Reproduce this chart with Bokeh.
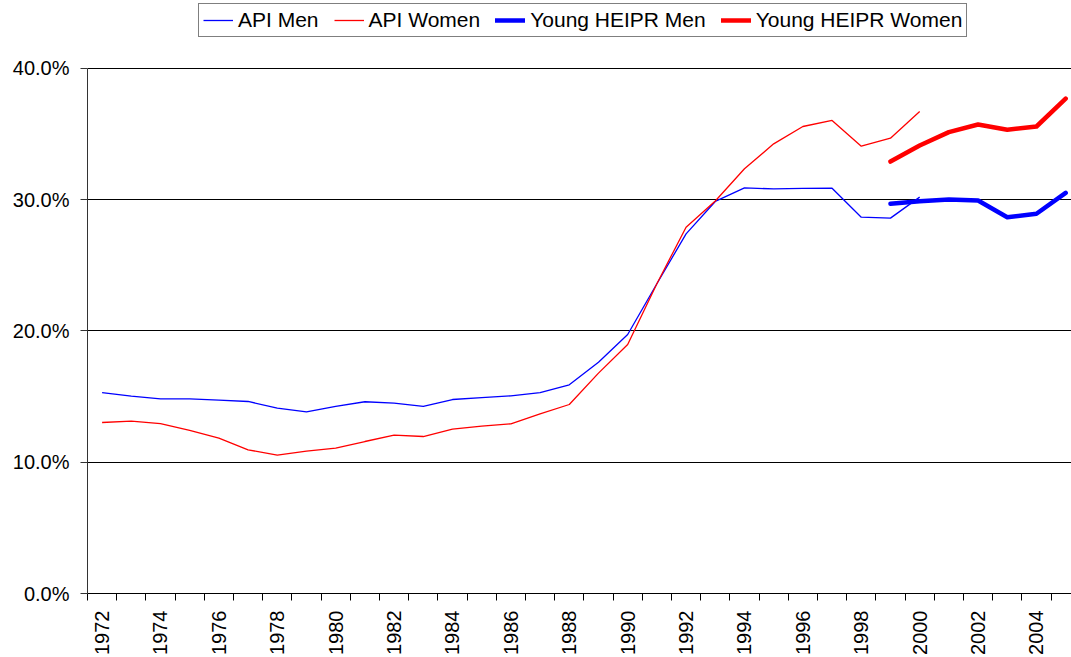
import math
from bokeh.plotting import figure
from bokeh.models import Legend, LegendItem, FixedTicker, NumeralTickFormatter, Range1d
from bokeh.embed import file_html
from bokeh.resources import INLINE

# ---- data (percent) ----
api_years = list(range(1972, 2001))
api_men = [15.31, 15.03, 14.83, 14.83, 14.73, 14.63, 14.12, 13.84, 14.25, 14.61,
           14.50, 14.25, 14.78, 14.93, 15.06, 15.31, 15.90, 17.62, 19.73, 23.60,
           27.40, 29.87, 30.90, 30.83, 30.86, 30.88, 28.67, 28.60, 30.20]
api_women = [13.03, 13.13, 12.95, 12.42, 11.83, 10.95, 10.54, 10.84, 11.07, 11.58,
             12.06, 11.96, 12.52, 12.75, 12.93, 13.69, 14.40, 16.79, 18.97, 23.60,
             27.91, 29.90, 32.36, 34.26, 35.58, 36.04, 34.08, 34.69, 36.72]
young_years = list(range(1999, 2006))
young_men = [29.69, 29.89, 30.02, 29.94, 28.67, 28.93, 30.52]
young_women = [32.91, 34.13, 35.15, 35.73, 35.33, 35.58, 37.70]

label_years = [1972, 1974, 1976, 1978, 1980, 1982, 1984, 1986, 1988, 1990,
               1992, 1994, 1996, 1998, 2000, 2002, 2004]
y_ticks = [0.0, 0.1, 0.2, 0.3, 0.4]
series_names = ["API Men", "API Women", "Young HEIPR Men", "Young HEIPR Women"]

FONT = "Liberation Sans"

# frame spans the full canvas height above the axis; the value axis is bounded to 0..40%
# so that the legend can sit inside the frame above the plotted area
p = figure(width=1071, height=657, output_backend="svg", toolbar_location=None,
           x_range=Range1d(1971.5, 2005.2), y_range=Range1d(0, 0.4518),
           min_border_left=87, min_border_right=0, min_border_top=0,
           min_border_bottom=64)
p.outline_line_color = None
p.background_fill_color = "white"

r1 = p.line(api_years, [v / 100 for v in api_men], line_color="#0000FF", line_width=1.3)
r2 = p.line(api_years, [v / 100 for v in api_women], line_color="#FF0000", line_width=1.3)
r3 = p.line(young_years, [v / 100 for v in young_men], line_color="#0000FF", line_width=4.5,
            line_cap="round", line_join="round")
r4 = p.line(young_years, [v / 100 for v in young_women], line_color="#FF0000", line_width=4.5,
            line_cap="round", line_join="round")

# y axis
p.yaxis.ticker = FixedTicker(ticks=y_ticks)
p.yaxis.formatter = NumeralTickFormatter(format="0.0%")
p.yaxis.bounds = (0, 0.4)
p.yaxis.major_tick_out = 7
p.yaxis.major_tick_in = 0
p.yaxis.minor_tick_line_color = None
p.yaxis.axis_line_color = "#333333"
p.yaxis.major_tick_line_color = "#333333"
p.yaxis.major_label_text_font = FONT
p.yaxis.major_label_text_font_size = "20px"
p.yaxis.major_label_text_color = "black"
p.yaxis.major_label_standoff = 11

# x axis
minor = [y - 0.5 for y in range(1972, 2007)]
p.xaxis.ticker = FixedTicker(ticks=label_years, minor_ticks=minor)
p.xaxis.major_label_orientation = math.pi / 2
p.xaxis.major_tick_out = 0
p.xaxis.major_tick_in = 0
p.xaxis.minor_tick_out = 7
p.xaxis.minor_tick_in = 0
p.xaxis.minor_tick_line_color = "black"
p.xaxis.axis_line_color = "black"
p.xaxis.major_label_text_font = FONT
p.xaxis.major_label_text_font_size = "20px"
p.xaxis.major_label_text_color = "black"
p.xaxis.major_label_standoff = 10

# grid
p.xgrid.grid_line_color = None
p.ygrid.ticker = FixedTicker(ticks=y_ticks)
p.ygrid.grid_line_color = "black"
p.ygrid.grid_line_width = 1

legend = Legend(items=[LegendItem(label=series_names[0], renderers=[r1]),
                       LegendItem(label=series_names[1], renderers=[r2]),
                       LegendItem(label=series_names[2], renderers=[r3]),
                       LegendItem(label=series_names[3], renderers=[r4])],
                orientation="horizontal", location=(111, 556))
legend.label_text_font = FONT
legend.label_text_font_size = "21px"
legend.label_text_color = "black"
legend.glyph_width = 30
legend.glyph_height = 20
legend.label_standoff = 5
legend.spacing = 15
legend.padding = 4
legend.margin = 0
legend.border_line_color = "black"
legend.border_line_width = 1
legend.background_fill_alpha = 1
p.add_layout(legend)

open("out.html", "w").write(file_html(p, INLINE))
